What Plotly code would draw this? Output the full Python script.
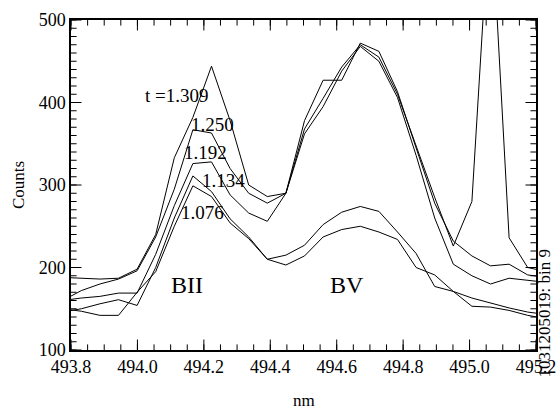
import plotly.graph_objects as go

# wavelength grid (nm)
wavelength = [493.775, 493.831, 493.887, 493.943, 493.999, 494.055, 494.111, 494.167,
              494.223, 494.279, 494.335, 494.391, 494.447, 494.503, 494.559, 494.615,
              494.671, 494.727, 494.783, 494.839, 494.895, 494.951, 495.007, 495.063,
              495.119, 495.175, 495.231]

t_1309 = [188, 187, 186, 187, 198, 240, 333, 382, 444, 378, 300, 286, 290, 378, 427, 427,
          472, 462, 413, 345, 278, 232, 214, 202, 204, 191, 188]
t_1250 = [160, 172, 180, 186, 196, 237, 295, 367, 363, 320, 290, 278, 290, 368, 405, 443,
          470, 455, 410, 348, 285, 226, 280, 650, 236, 200, 195]
t_1192 = [160, 163, 165, 169, 169, 216, 275, 326, 328, 288, 266, 256, 290, 362, 395, 438,
          468, 450, 406, 336, 260, 204, 190, 180, 187, 184, 182]
t_1134 = [146, 150, 156, 161, 154, 200, 260, 311, 292, 259, 237, 210, 215, 227, 252, 267,
          274, 268, 243, 217, 177, 171, 153, 152, 148, 142, 138]
t_1076 = [150, 147, 142, 142, 170, 195, 250, 299, 286, 254, 235, 210, 203, 214, 237, 246,
          250, 243, 234, 200, 191, 171, 163, 157, 151, 146, 143]

series = [t_1309, t_1250, t_1192, t_1134, t_1076]

labels = ["t =1.309", "1.250", "1.192", "1.134", "1.076"]
label_x = [494.120, 494.225, 494.206, 494.258, 494.197]
label_y = [409, 373, 339, 306, 267]

X_RANGE = [493.8, 495.2]
Y_RANGE = [100, 500]
x_major = [493.8, 494.0, 494.2, 494.4, 494.6, 494.8, 495.0, 495.2]
y_major = [100, 200, 300, 400, 500]
x_minor = [round(493.8 + 0.05 * k, 3) for k in range(29)]
y_minor = [100 + 10 * k for k in range(41)]

FONT = "Liberation Serif, Times New Roman, serif"

fig = go.Figure()
for s in series:
    fig.add_trace(go.Scatter(x=wavelength, y=s, mode="lines",
                             line=dict(color="black", width=1), showlegend=False,
                             hoverinfo="skip"))


def tick_trace(xs, ys, symbol, size):
    return go.Scatter(x=xs, y=ys, mode="markers", showlegend=False, hoverinfo="skip",
                      cliponaxis=True,
                      marker=dict(symbol=symbol, size=size, color="black",
                                  line=dict(width=1, color="black")))


# inside tick marks on all four sides (half of each marker is clipped by the plot area)
for edge_y in Y_RANGE:
    fig.add_trace(tick_trace(x_minor, [edge_y] * len(x_minor), "line-ns", 8))
    fig.add_trace(tick_trace(x_major, [edge_y] * len(x_major), "line-ns", 15))
for edge_x in X_RANGE:
    fig.add_trace(tick_trace([edge_x] * len(y_minor), y_minor, "line-ew", 8))
    fig.add_trace(tick_trace([edge_x] * len(y_major), y_major, "line-ew", 15))

annotations = []
for t, x, y in zip(labels, label_x, label_y):
    annotations.append(dict(x=x, y=y, text=t, showarrow=False, xref="x", yref="y",
                            font=dict(family=FONT, size=19, color="black")))
annotations.append(dict(x=494.15, y=179, text="BII", showarrow=False,
                        font=dict(family=FONT, size=24, color="black")))
annotations.append(dict(x=494.63, y=179, text="BV", showarrow=False,
                        font=dict(family=FONT, size=24, color="black")))
annotations.append(dict(x=1.019, y=0.11, xref="paper", yref="paper",
                        text="1031205019: bin 9", textangle=-90, showarrow=False,
                        xanchor="center", yanchor="middle",
                        font=dict(family=FONT, size=17, color="black")))
annotations.append(dict(x=-0.114, y=0.5, xref="paper", yref="paper", text="Counts",
                        textangle=-90, showarrow=False, xanchor="center", yanchor="middle",
                        font=dict(family=FONT, size=17, color="black")))
annotations.append(dict(x=0.5, y=-0.152, xref="paper", yref="paper", text="nm",
                        showarrow=False, xanchor="center", yanchor="middle",
                        font=dict(family=FONT, size=17, color="black")))

axis_common = dict(showgrid=False, zeroline=False, showline=True, linecolor="black",
                   linewidth=1.5, mirror=True, ticks="", automargin=False,
                   tickfont=dict(family=FONT, size=18, color="black"))

fig.update_xaxes(range=X_RANGE, tickvals=x_major,
                 ticktext=[f"{v:.1f}" for v in x_major], **axis_common)
fig.update_yaxes(range=Y_RANGE, tickvals=y_major,
                 ticktext=[str(v) for v in y_major], **axis_common)

fig.update_layout(width=559, height=412, margin=dict(l=71, r=23, t=20, b=62),
                  plot_bgcolor="white", paper_bgcolor="white",
                  annotations=annotations)

fig.write_html("out.html", config={"displayModeBar": False},
               post_script="document.body.style.margin='0';document.body.style.overflow='hidden';")
